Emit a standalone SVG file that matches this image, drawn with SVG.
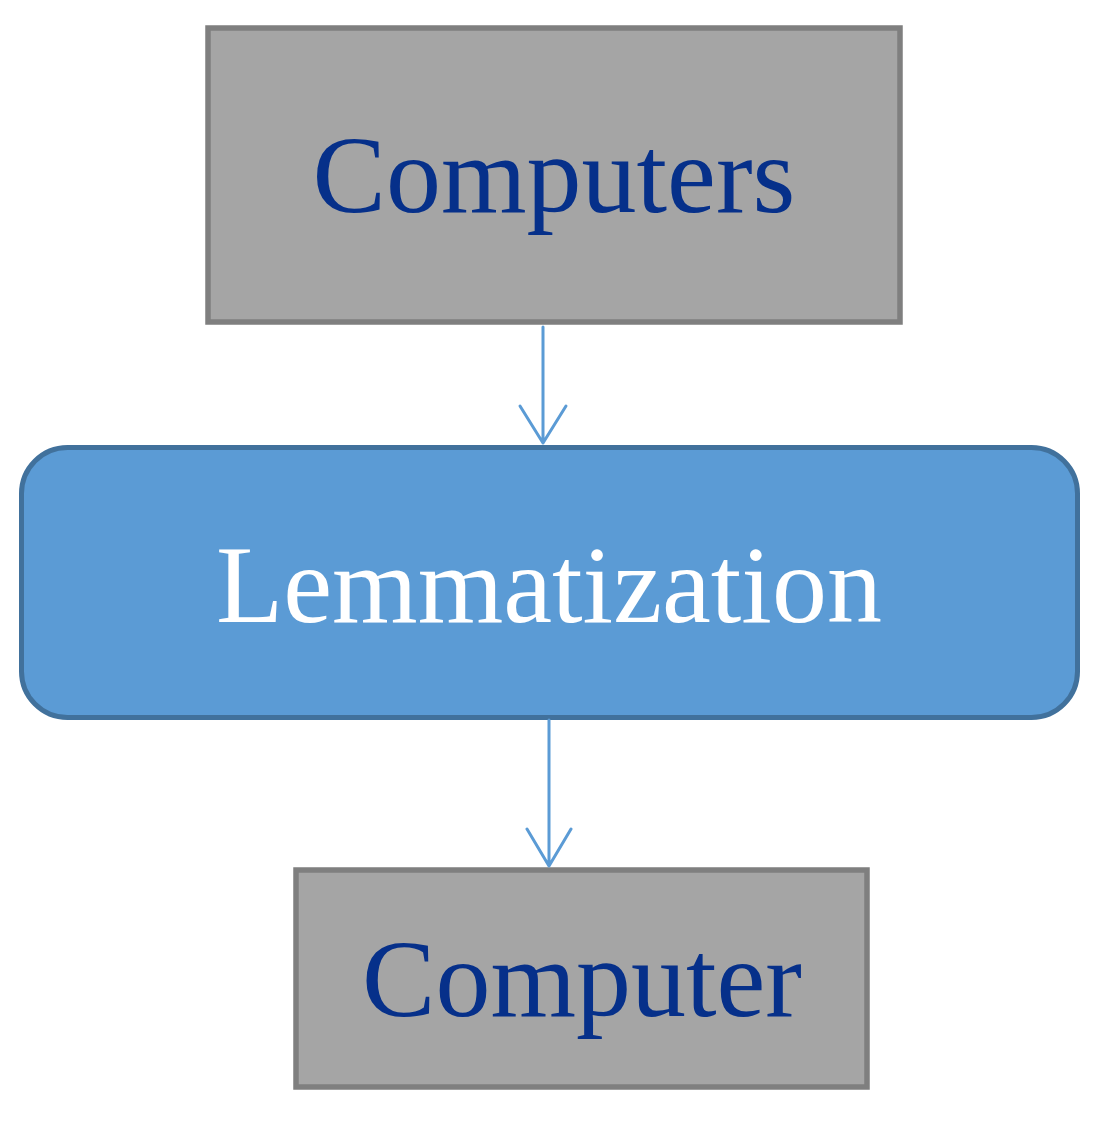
<svg xmlns="http://www.w3.org/2000/svg" width="1105" height="1128" viewBox="0 0 1105 1128">
<style>
.box{fill:#a5a5a5;stroke:#7f7f7f;stroke-width:5.5}
.proc{fill:#5b9bd5;stroke:#41719c;stroke-width:5}
.t{font-family:"Liberation Serif","Times New Roman",serif;font-size:110px;text-anchor:middle}
.dark{fill:#06308a}
.light{fill:#ffffff}
.conn{stroke:#5b9bd5;stroke-width:3;fill:none;stroke-linecap:round;stroke-linejoin:round}
</style>
<rect width="1105" height="1128" fill="#ffffff"/>
<g id="node-computers">
<rect class="box" x="208" y="28" width="692" height="294"/>
<text class="t dark" x="554" y="212">Computers</text>
</g>
<g id="node-lemmatization">
<rect class="proc" x="21.5" y="447.5" width="1056" height="270" rx="46" ry="46"/>
<text class="t light" x="549" y="622">Lemmatization</text>
</g>
<g id="node-computer">
<rect class="box" x="296" y="870" width="571" height="217"/>
<text class="t dark" x="582" y="1016">Computer</text>
</g>
<g id="connectors">
<path class="conn" d="M543 327 V443 M520 406 L543 443 L566 406"/>
<path class="conn" d="M549 720 V866 M527 829 L549 866 L571 829"/>
</g>
</svg>
